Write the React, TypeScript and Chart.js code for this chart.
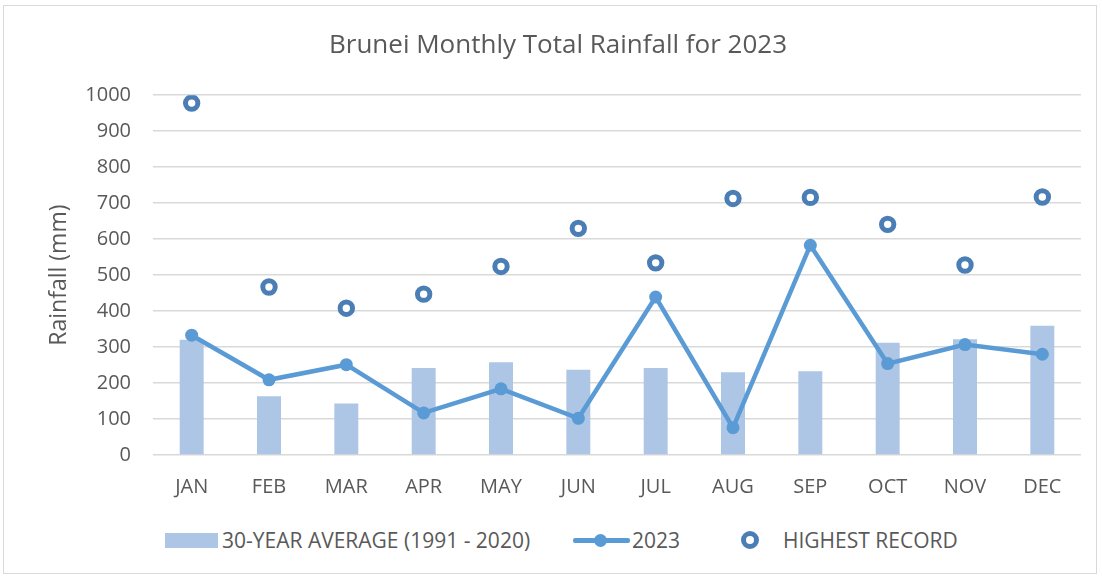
import React, { useEffect, useRef } from 'react';
import { Chart, registerables } from 'chart.js';

Chart.register(...registerables);

const months = ['JAN', 'FEB', 'MAR', 'APR', 'MAY', 'JUN', 'JUL', 'AUG', 'SEP', 'OCT', 'NOV', 'DEC'];
const avg30 = [320, 163, 143, 242, 258, 237, 242, 230, 233, 312, 322, 359];
const rain2023 = [333, 209, 251, 117, 184, 102, 439, 76, 583, 254, 307, 280];
const highest = [978, 467, 408, 447, 524, 630, 534, 713, 716, 641, 528, 717];
const yMin = 0;
const yMax = 1000;
const yStep = 100;

const FONT = '"Open Sans", "Noto Sans", sans-serif';
const TEXT = '#595959';
const GRID = '#D9D9D9';
const BAR = '#ADC6E6';
const LINE = '#5B9BD5';
const RING = '#4A7EB5';

export default function App() {
  const ref = useRef<HTMLCanvasElement | null>(null);

  useEffect(() => {
    if (!ref.current) return;
    const chart = new Chart(ref.current, {
      type: 'bar',
      data: {
        labels: months,
        datasets: [
          {
            type: 'bar',
            label: '30-YEAR AVERAGE (1991 - 2020)',
            data: avg30,
            backgroundColor: BAR,
            barPercentage: 0.31,
            categoryPercentage: 1,
            order: 3,
          },
          {
            type: 'line',
            label: '2023',
            data: rain2023,
            borderColor: LINE,
            backgroundColor: LINE,
            borderWidth: 4.5,
            pointRadius: 6.5,
            pointBackgroundColor: LINE,
            pointBorderWidth: 0,
            tension: 0,
            order: 2,
          },
          {
            type: 'line',
            label: 'HIGHEST RECORD',
            data: highest,
            showLine: false,
            pointRadius: 6.2,
            pointBorderWidth: 5,
            pointBorderColor: RING,
            pointBackgroundColor: '#FFFFFF',
            borderColor: RING,
            backgroundColor: '#FFFFFF',
            order: 1,
          },
        ],
      },
      options: {
        responsive: false,
        animation: false,
        devicePixelRatio: 1,
        layout: { padding: { left: 35, right: 21, top: 0, bottom: 0 } },
        plugins: {
          legend: { display: false },
          tooltip: { enabled: false },
          title: {
            display: true,
            text: 'Brunei Monthly Total Rainfall for 2023',
            color: TEXT,
            font: { family: FONT, size: 26, weight: 'normal' },
            padding: { top: 30, bottom: 34 },
          },
        },
        scales: {
          x: {
            grid: { display: false },
            border: { display: false },
            ticks: {
              color: TEXT,
              font: { family: FONT, size: 20 },
              padding: 12,
              maxRotation: 0,
            },
          },
          y: {
            min: yMin,
            max: yMax,
            afterFit: (scale: any) => {
              scale.width = 118;
            },
            ticks: {
              stepSize: yStep,
              color: TEXT,
              font: { family: FONT, size: 20 },
              padding: 22,
              callback: (v: any) => String(v),
            },
            grid: { color: GRID, lineWidth: 1.5, drawTicks: false },
            border: { display: false },
            title: {
              display: true,
              text: 'Rainfall (mm)',
              color: TEXT,
              font: { family: FONT, size: 23 },
              padding: { top: 11, bottom: 0 },
            },
          },
        },
      },
    });
    return () => chart.destroy();
  }, []);

  const legendText: React.CSSProperties = {
    position: 'absolute',
    top: 527,
    fontFamily: FONT,
    fontSize: 21,
    color: TEXT,
    lineHeight: '26px',
    whiteSpace: 'nowrap',
  };

  return (
    <div style={{ position: 'absolute', left: 0, top: 0, width: 1102, height: 578, background: '#fff' }}>
      <div
        style={{
          position: 'absolute',
          left: 3,
          top: 5,
          width: 1094,
          height: 569,
          border: `1px solid ${GRID}`,
          boxSizing: 'border-box',
        }}
      />
      <canvas ref={ref} width={1102} height={511} style={{ position: 'absolute', left: 0, top: 0 }} />
      <div style={{ position: 'absolute', left: 165, top: 533, width: 53, height: 15, background: BAR }} />
      <span style={{ ...legendText, left: 222 }}>30-YEAR AVERAGE (1991 - 2020)</span>
      <div style={{ position: 'absolute', left: 573, top: 538, width: 57, height: 4.5, background: LINE, borderRadius: 2 }} />
      <div style={{ position: 'absolute', left: 594, top: 533.5, width: 13, height: 13, background: LINE, borderRadius: '50%' }} />
      <span style={{ ...legendText, left: 632 }}>2023</span>
      <div
        style={{
          position: 'absolute',
          left: 741,
          top: 531,
          width: 18,
          height: 18,
          borderRadius: '50%',
          border: `5px solid ${RING}`,
          boxSizing: 'border-box',
          background: '#fff',
        }}
      />
      <span style={{ ...legendText, left: 783 }}>HIGHEST RECORD</span>
    </div>
  );
}
